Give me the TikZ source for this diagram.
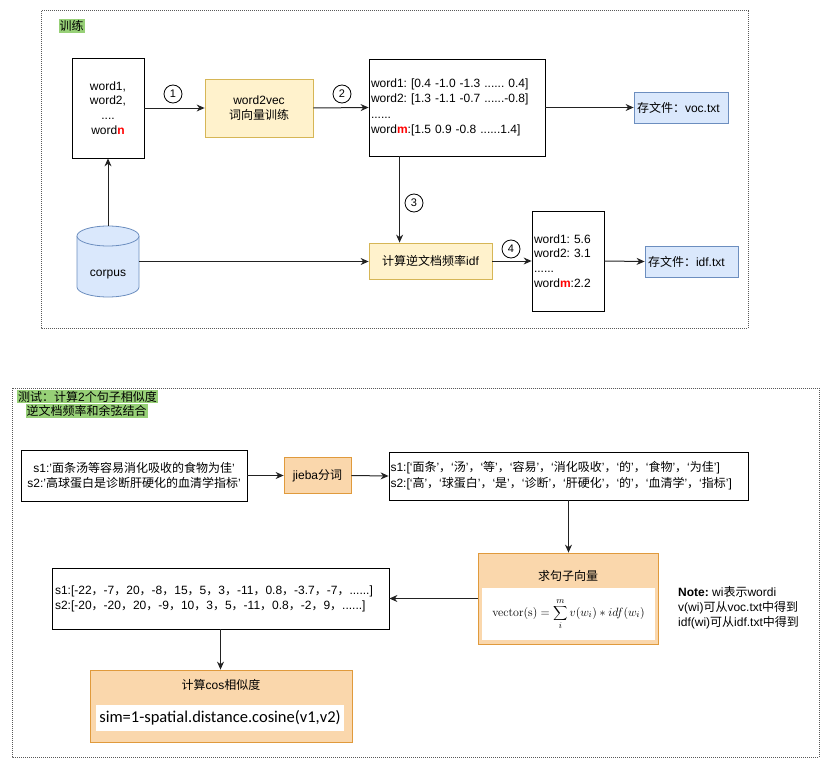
\documentclass[tikz,border=0pt]{standalone}
\usepackage[no-math]{fontspec}
\setmainfont{Liberation Sans}
\newfontfamily\cjk{Noto Sans CJK SC}
\newfontfamily\calib{Carlito}
\usetikzlibrary{arrows.meta}
\definecolor{yfill}{HTML}{FFF2CC}
\definecolor{ydraw}{HTML}{D6B656}
\definecolor{bfill}{HTML}{DAE8FC}
\definecolor{bdraw}{HTML}{6C8EBF}
\definecolor{ofill}{HTML}{FAD7AC}
\definecolor{odraw}{HTML}{E09A3C}
\definecolor{gfill}{HTML}{97D077}
\definecolor{lcol}{HTML}{222222}
\newcommand\zh[1]{{\cjk #1}}
\newcommand\rb[1]{\textcolor{red}{\textbf{#1}}}
\frenchspacing
\tikzset{
  base/.style={font=\fontsize{12}{15}\selectfont\frenchspacing, inner sep=0pt},
  wbox/.style={base, draw=black, fill=white, line width=0.8pt},
  ybox/.style={base, draw=ydraw, fill=yfill, line width=0.8pt},
  bbox/.style={base, draw=bdraw, fill=bfill, line width=0.8pt},
  obox/.style={base, draw=odraw, fill=ofill, line width=0.8pt},
  num/.style={circle, draw=black, line width=0.8pt, minimum size=18pt, inner sep=0pt, font=\fontsize{11}{11}\selectfont},
  arr/.style={draw=lcol, line width=1pt, -{Stealth[length=8pt,width=7pt]}},
  frame/.style={draw=black!65, line width=1pt, dash pattern=on 1pt off 1pt},
  gtitle/.style={base, fill=gfill, inner xsep=1pt, inner ysep=1pt},
}
\begin{document}
\begin{tikzpicture}[x=1pt,y=-1pt]
\useasboundingbox (0,0) rectangle (832,776);
\fill[white] (0,0) rectangle (832,776);
% frames
\draw[frame] (41,11) rectangle (748,328);
\draw[frame] (12,388) rectangle (819,757);
% ---------- top ----------
\node[gtitle] (ttrain) at (71.5,26) {\zh{训练}};
\node[wbox, minimum width=72pt, minimum height=100pt, align=center, font=\fontsize{12}{14.7}\selectfont] (words) at (108,108)
  {word1,\\word2,\\....\\word\rb{n}};
\node[ybox, minimum width=108pt, minimum height=58pt, align=center] (w2v) at (259,108)
  {word2vec\\\zh{词向量训练}};
\node[wbox, minimum width=176pt, minimum height=97pt, text width=172pt, inner xsep=2pt, align=left, font=\fontsize{12}{15.3}\selectfont\frenchspacing] (vec) at (457,107.5)
  {word1: [0.4 -1.0 -1.3 ...... 0.4]\\word2: [1.3 -1.1 -0.7 ......-0.8]\\......\\word\rb{m}:[1.5 0.9 -0.8 ......1.4]};
\node[bbox, minimum width=94pt, minimum height=31pt, text width=88pt, inner xsep=3pt, align=left] (voc) at (681,107.5)
  {\zh{存文件：}voc.txt};
\node[ybox, minimum width=123pt, minimum height=36pt, align=center] (idf) at (430.5,261)
  {\zh{计算逆文档频率}idf};
\node[wbox, minimum width=72pt, minimum height=100pt, text width=68pt, inner xsep=2pt, align=left, font=\fontsize{12}{14.8}\selectfont\frenchspacing] (idfres) at (568,261)
  {word1: 5.6\\word2: 3.1\\......\\word\rb{m}:2.2};
\node[bbox, minimum width=93pt, minimum height=31pt, text width=87pt, inner xsep=3pt, align=left] (idftxt) at (691.5,261.5)
  {\zh{存文件：}idf.txt};
% corpus cylinder
\node[base, minimum width=62pt, minimum height=71pt] (corpus) at (108,261.5) {};
\filldraw[fill=bfill, draw=bdraw, line width=0.8pt] (77,236) -- (77,287) arc[start angle=180, end angle=360, x radius=31pt, y radius=10pt] -- (139,236);
\filldraw[fill=bfill, draw=bdraw, line width=0.8pt] (108,236) ellipse[x radius=31pt, y radius=10pt];
\node[base] (corpustxt) at (108,275) {corpus};
% numbers
\node[num] (n1) at (173,94) {1};
\node[num] (n2) at (342,94) {2};
\node[num] (n3) at (414,203) {3};
\node[num] (n4) at (511,249) {4};
% top arrows
\draw[arr] (words.east) -- (w2v.west);
\draw[arr] (w2v.east) -- (vec.west);
\draw[arr] (vec.east) -- (voc.west);
\draw[arr] ([xshift=31pt]vec.south west) -- ([xshift=31pt]idf.north west);
\draw[arr] (corpus.east) -- (corpus.east -| idf.west);
\draw[arr] (corpus.north) -- (words.south);
\draw[arr] (idf.east) -- (idfres.west);
\draw[arr] (idfres.east) -- (idftxt.west);
% ---------- bottom ----------
\node[gtitle] (tt1) at (87.5,396.5) {\zh{测试：计算}2\zh{个句子相似度}};
\node[gtitle] (tt2) at (86.5,411) {\zh{逆文档频率和余弦结合}};
\node[wbox, minimum width=226pt, minimum height=51pt, align=center] (sent) at (134,475.5)
  {s1:'\zh{面条汤等容易消化吸收的食物为佳}'\\s2:'\zh{高球蛋白是诊断肝硬化的血清学指标}'};
\node[obox, minimum width=67pt, minimum height=36pt] (jieba) at (317.5,475.5) {jieba\zh{分词}};
\node[wbox, minimum width=359pt, minimum height=48pt, text width=356pt, inner xsep=1.5pt, align=left, font=\fontsize{12}{16}\selectfont] (tok) at (568.5,476)
  {s1:[‘\zh{面条}’\zh{，}‘\zh{汤}’\zh{，}‘\zh{等}’\zh{，}‘\zh{容易}’\zh{，}‘\zh{消化吸收}’\zh{，}‘\zh{的}’\zh{，}‘\zh{食物}’\zh{，}‘\zh{为佳}’]\\
   s2:[‘\zh{高}’\zh{，}‘\zh{球蛋白}’\zh{，}‘\zh{是}’\zh{，}‘\zh{诊断}’\zh{，}‘\zh{肝硬化}’\zh{，}‘\zh{的}’\zh{，}‘\zh{血清学}’\zh{，}‘\zh{指标}’]};
\node[obox, minimum width=180pt, minimum height=91pt] (sv) at (568,598.5) {};
\node[base] (svtitle) at (568,576) {\zh{求句子向量}};
\fill[white] (482,588) rectangle (655,640);
\node[base] (formula) at (568.5,614)
  {\fontsize{12.5}{15}\selectfont$\displaystyle \mathrm{vector(s)} = \sum_{i}^{m} v(w_i) * idf(w_i)$};
\node[wbox, minimum width=337pt, minimum height=61pt, text width=331pt, inner xsep=3pt, align=left] (vecs) at (220.5,598.5)
  {s1:[-22\zh{，}-7\zh{，}20\zh{，}-8\zh{，}15\zh{，}5\zh{，}3\zh{，}-11\zh{，}0.8\zh{，}-3.7\zh{，}-7\zh{，}......]\\
   s2:[-20\zh{，}-20\zh{，}20\zh{，}-9\zh{，}10\zh{，}3\zh{，}5\zh{，}-11\zh{，}0.8\zh{，}-2\zh{，}9\zh{，}......]};
\node[base, anchor=west, align=left] (note) at (678,608)
  {\textbf{Note:} wi\zh{表示}wordi\\v(wi)\zh{可从}voc.txt\zh{中得到}\\idf(wi)\zh{可从}idf.txt\zh{中得到}};
\node[obox, minimum width=262pt, minimum height=72pt] (cos) at (221,706) {};
\node[base] (costitle) at (221,685) {\zh{计算}cos\zh{相似度}};
\node[base, fill=white, minimum width=248pt, minimum height=26pt, font=\calib\fontsize{16.5}{18}\selectfont] (sim) at (220,718)
  {sim=1-spatial.distance.cosine(v1,v2)};
% bottom arrows
\draw[arr] (sent.east) -- (jieba.west);
\draw[arr] (jieba.east) -- (tok.west);
\draw[arr] (tok.south) -- (tok.south |- sv.north);
\draw[arr] (sv.west) -- (vecs.east);
\draw[arr] (vecs.south) -- (vecs.south |- cos.north);
\end{tikzpicture}
\end{document}
